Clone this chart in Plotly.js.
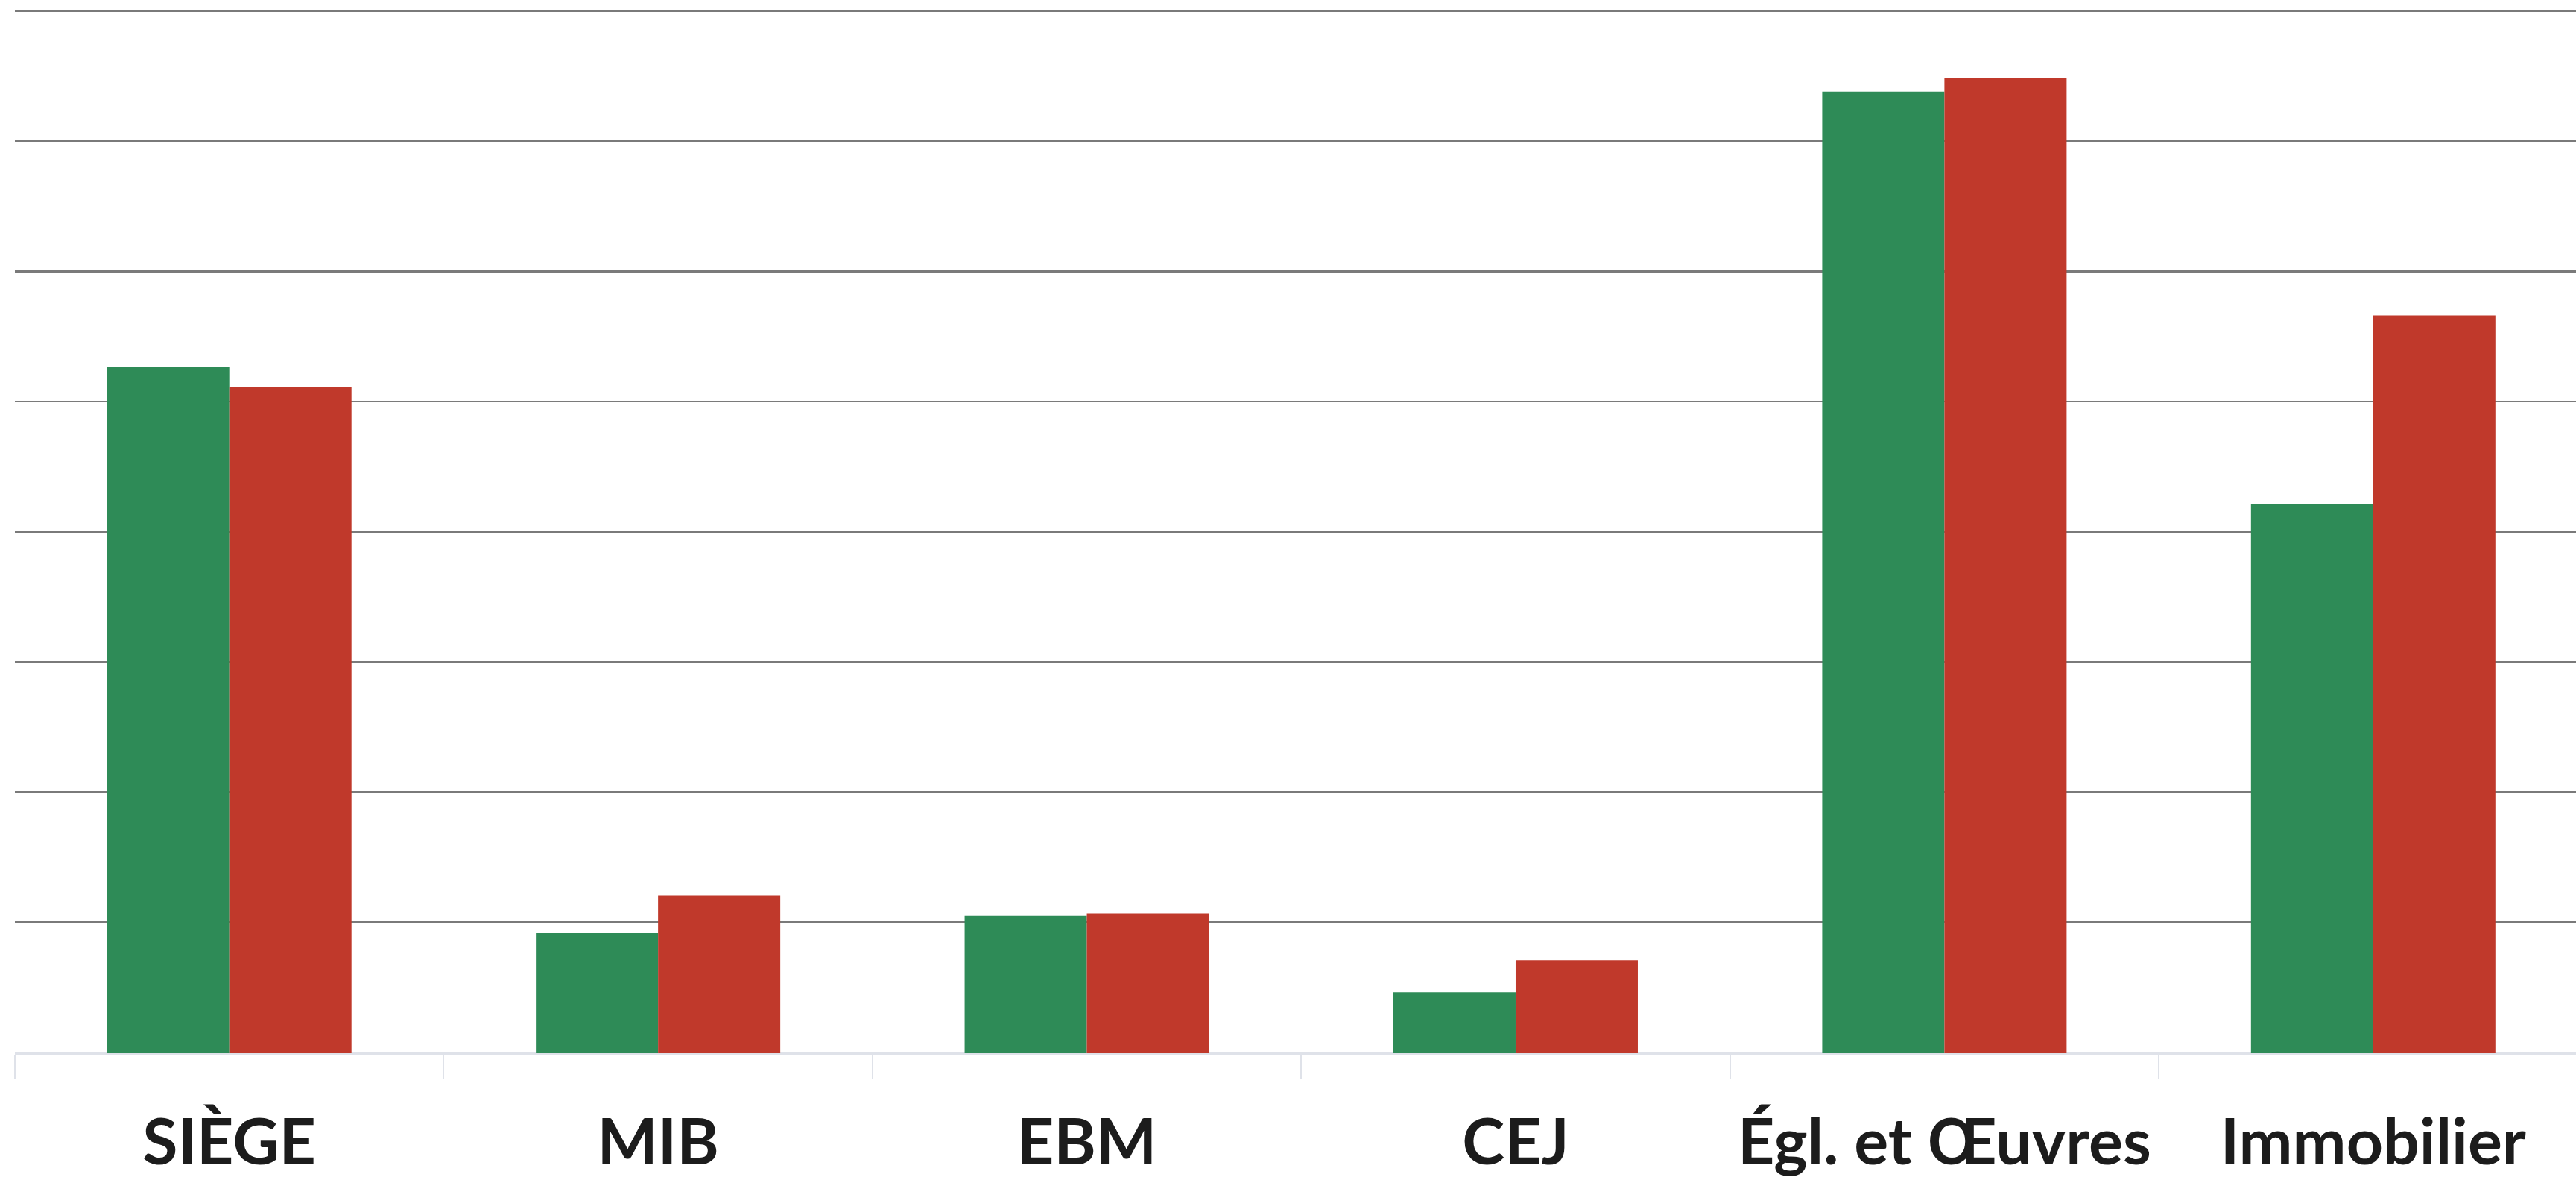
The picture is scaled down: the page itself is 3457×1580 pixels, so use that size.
<!DOCTYPE html>
<html>
<head>
<meta charset="utf-8">
<script src="https://cdn.plot.ly/plotly-3.0.1.min.js"></script>
<style>
html,body{margin:0;padding:0;background:#ffffff;}
#chart{width:3457px;height:1580px;}
</style>
</head>
<body>
<div id="chart"></div>
<script>
const categories = ["SIÈGE", "MIB", "EBM", "CEJ", "Égl. et Œuvres", "Immobilier"];
const serie1 = [526.8, 92.0, 105.4, 46.2, 738.2, 421.5];
const serie2 = [511.0, 120.4, 106.7, 70.8, 748.3, 566.1];
const serieNames = ["Série 1", "Série 2"];
const yTicks = [0, 100, 200, 300, 400, 500, 600, 700, 800];

const traces = [
  {type: "bar", name: serieNames[0], x: categories, y: serie1,
   marker: {color: "#2e8b57", line: {width: 0}}},
  {type: "bar", name: serieNames[1], x: categories, y: serie2,
   marker: {color: "#c0392b", line: {width: 0}}}
];

const layout = {
  width: 3457, height: 1580,
  margin: {l: 20, r: 0, t: 13, b: 167, pad: 0},
  paper_bgcolor: "#ffffff", plot_bgcolor: "#ffffff",
  showlegend: false,
  barmode: "group", bargap: 0.43, bargroupgap: 0,
  xaxis: {
    type: "category",
    range: [-0.5, 5.473],
    showgrid: false, zeroline: false,
    showline: true, linecolor: "#dfe2e9", linewidth: 3,
    ticks: "outside", tickson: "boundaries", ticklen: 33, tickwidth: 2, tickcolor: "#dfe2e9",
    tickangle: 0,
    ticklabelstandoff: 44,
    tickfont: {family: "Lato, 'Open Sans', sans-serif", size: 86, color: "#1c1c1c", weight: "bold"}
  },
  yaxis: {
    range: [0, 801],
    tickmode: "array", tickvals: yTicks,
    showticklabels: false,
    showgrid: true, gridcolor: "#7a7a7a", gridwidth: 2.5,
    zeroline: true, zerolinecolor: "#dfe2e9", zerolinewidth: 3,
    showline: false, ticks: ""
  }
};

Plotly.newPlot("chart", traces, layout, {displayModeBar: false, staticPlot: true});
</script>
</body>
</html>
